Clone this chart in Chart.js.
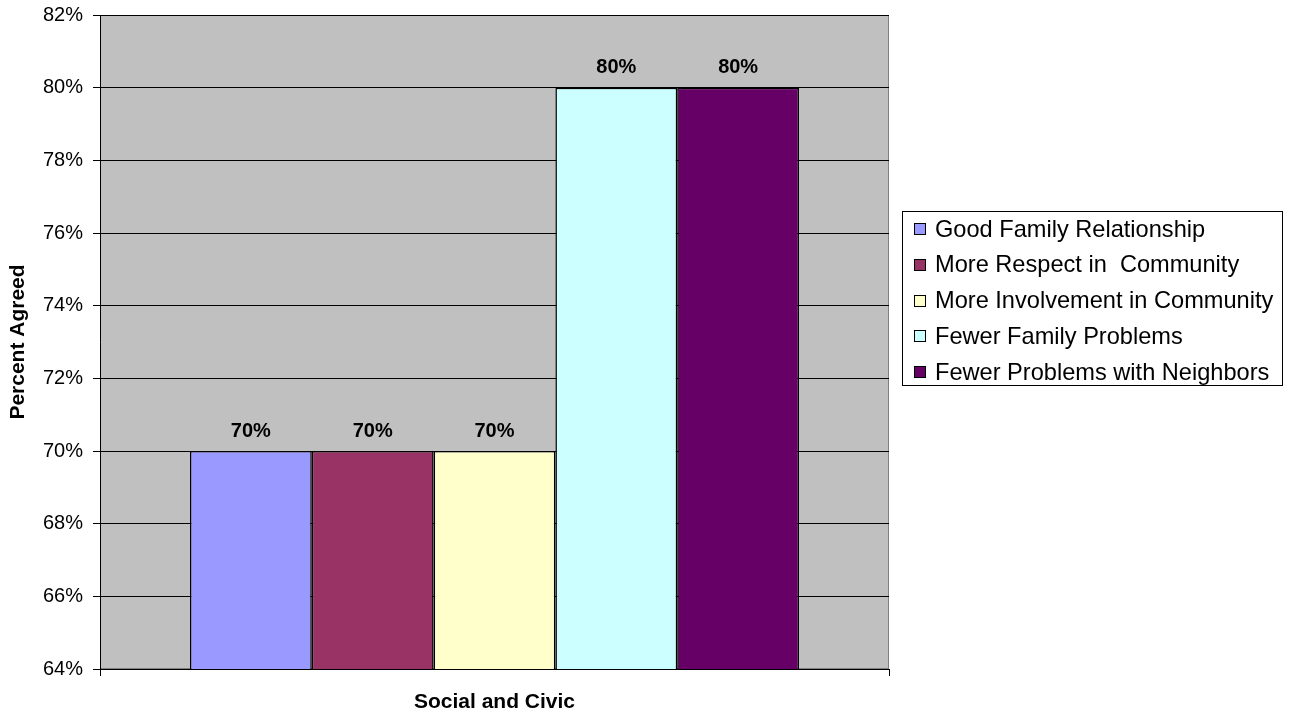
<!DOCTYPE html>
<html>
<head>
<meta charset="utf-8">
<script src="https://cdn.jsdelivr.net/npm/chart.js@4/dist/chart.umd.min.js"></script>
<style>
  html, body { margin: 0; padding: 0; background: #ffffff; }
  #wrap { width: 1292px; height: 713px; }
</style>
</head>
<body>
<div id="wrap"><canvas id="agreedChart" width="1292" height="713"></canvas></div>
<script>
const categories = [''];
const seriesNames = [
    'Good Family Relationship',
    'More Respect in  Community',
    'More Involvement in Community',
    'Fewer Family Problems',
    'Fewer Problems with Neighbors'
];
const seriesValues = [70, 70, 70, 80, 80];
const seriesColors = ['#9999ff', '#993366', '#ffffcc', '#ccffff', '#660066'];
const yTicks = [64, 66, 68, 70, 72, 74, 76, 78, 80, 82];

const fontFamily = "'Liberation Sans', Arial, sans-serif";

// grey plot background with a thin frame
const plotBackground = {
    id: 'plotBackground',
    beforeDraw: function(chart) {
        const area = chart.chartArea;
        const ctx = chart.ctx;
        ctx.save();
        ctx.fillStyle = '#c0c0c0';
        ctx.fillRect(area.left, area.top, area.right - area.left, area.bottom - area.top);
        ctx.strokeStyle = '#808080';
        ctx.lineWidth = 1;
        ctx.strokeRect(area.left + 0.5, area.top + 0.5, area.right - area.left - 1, area.bottom - area.top - 1);
        ctx.restore();
    }
};

// value labels above each bar
const valueLabels = {
    id: 'valueLabels',
    afterDatasetsDraw: function(chart) {
        const ctx = chart.ctx;
        ctx.save();
        ctx.font = 'bold 20px ' + fontFamily;
        ctx.fillStyle = '#000';
        ctx.textAlign = 'center';
        ctx.textBaseline = 'middle';
        chart.data.datasets.forEach(function(dataset, i) {
            chart.getDatasetMeta(i).data.forEach(function(bar, j) {
                ctx.fillText(dataset.data[j] + '%', bar.x, bar.y - 20);
            });
        });
        ctx.restore();
    }
};

// boxed legend on the right side
const boxedLegend = {
    id: 'boxedLegend',
    afterDraw: function(chart) {
        const ctx = chart.ctx;
        const left = 902, top = 211, width = 380, rowH = 35.8;
        const height = 174;
        ctx.save();
        ctx.strokeStyle = '#000';
        ctx.lineWidth = 1;
        ctx.strokeRect(left + 0.5, top + 0.5, width, height);
        ctx.font = '23.6px ' + fontFamily;
        ctx.textBaseline = 'middle';
        ctx.textAlign = 'left';
        chart.data.datasets.forEach(function(dataset, i) {
            const cy = top + 18 + i * rowH;
            ctx.fillStyle = dataset.backgroundColor;
            ctx.fillRect(914, Math.round(cy - 6), 12, 12);
            ctx.strokeStyle = '#000';
            ctx.strokeRect(914.5, Math.round(cy - 6) + 0.5, 11, 11);
            ctx.fillStyle = '#000';
            ctx.fillText(dataset.label, 935, cy + 1);
        });
        ctx.restore();
    }
};

const datasets = seriesNames.map(function(name, i) {
    return {
        label: name,
        data: [seriesValues[i]],
        backgroundColor: seriesColors[i],
        borderColor: '#000',
        borderWidth: 1.5,
        borderSkipped: false,
        barPercentage: 1,
        categoryPercentage: 0.772
    };
});

new Chart(document.getElementById('agreedChart'), {
    type: 'bar',
    data: {
        labels: categories,
        datasets: datasets
    },
    plugins: [plotBackground, valueLabels, boxedLegend],
    options: {
        responsive: false,
        animation: false,
        layout: {
            padding: { left: 0, top: 15, right: 403, bottom: 0 }
        },
        plugins: {
            legend: { display: false },
            tooltip: { enabled: false }
        },
        scales: {
            x: {
                offset: true,
                grid: {
                    offset: true,
                    drawOnChartArea: false,
                    drawTicks: true,
                    tickLength: 7,
                    color: '#000'
                },
                border: { color: '#000' },
                ticks: { display: false },
                title: {
                    display: true,
                    text: 'Social and Civic',
                    color: '#000',
                    font: { family: fontFamily, size: 21, weight: 'bold' },
                    padding: { top: 18, bottom: -2 }
                },
                afterFit: function(scale) {
                    scale.height = 44;
                    scale.paddingLeft = 0;
                    scale.paddingRight = 0;
                }
            },
            y: {
                min: yTicks[0],
                max: yTicks[yTicks.length - 1],
                afterBuildTicks: function(scale) {
                    scale.ticks = yTicks.map(function(v) { return { value: v }; });
                },
                grid: {
                    color: '#000',
                    tickLength: 7
                },
                border: { color: '#000' },
                ticks: {
                    color: '#000',
                    padding: 10,
                    font: { family: fontFamily, size: 20 },
                    callback: function(value) { return value + '%'; }
                },
                title: {
                    display: true,
                    text: 'Percent Agreed',
                    color: '#000',
                    font: { family: fontFamily, size: 21, weight: 'bold' },
                    padding: { top: 6, bottom: 0 }
                },
                afterFit: function(scale) {
                    scale.width = 100;
                    scale.paddingTop = 0;
                    scale.paddingBottom = 0;
                }
            }
        }
    }
});
</script>
</body>
</html>
